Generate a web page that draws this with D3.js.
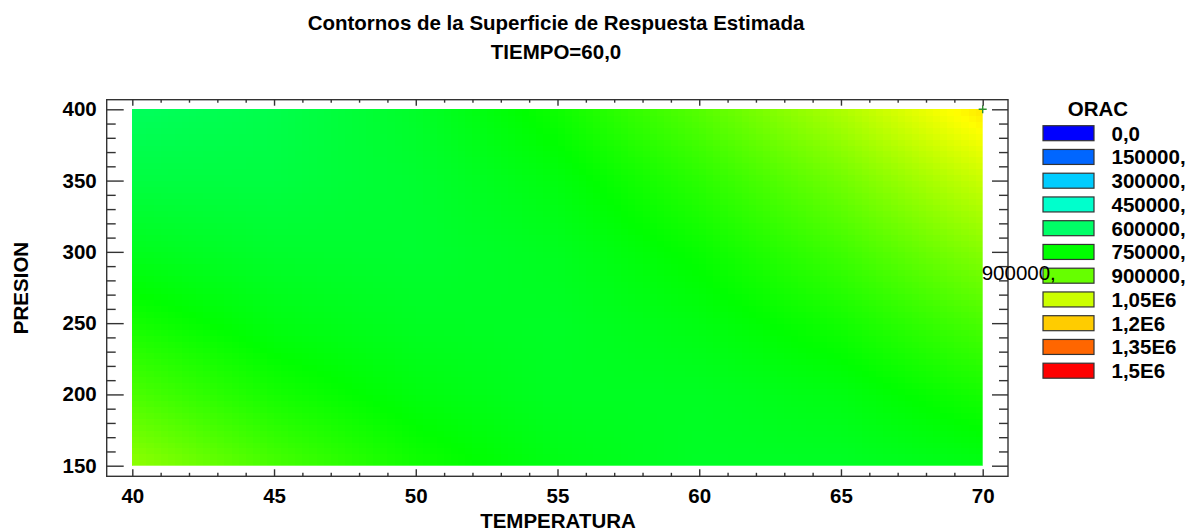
<!DOCTYPE html>
<html>
<head>
<meta charset="utf-8">
<script src="https://cdn.jsdelivr.net/npm/d3@7"></script>
<style>
  html, body { margin: 0; padding: 0; background: #fff; }
  svg { display: block; }
  text { font-family: "Liberation Sans", Arial, sans-serif; fill: #000; }
</style>
</head>
<body>
<svg id="chart" width="1191" height="531"></svg>
<script>
// Estimated response surface of ORAC at TIEMPO = 60,0
const temperaturas = [40, 45, 50, 55, 60, 65, 70];
const presiones = [150, 200, 250, 300, 350, 400];
// one row per presion (same order as presiones), one value per temperatura
const orac = [
  [960000, 855000, 775000, 720000, 695000, 695000, 720000],
  [860000, 780000, 730000, 700000, 700000, 725000, 780000],
  [780000, 725000, 700000, 695000, 725000, 775000, 855000],
  [710000, 685000, 680000, 705000, 760000, 840000, 945000],
  [655000, 655000, 680000, 730000, 810000, 915000, 1045000],
  [615000, 640000, 690000, 770000, 875000, 1005000, 1160000]
];
const niveles = [0, 150000, 300000, 450000, 600000, 750000, 900000, 1050000, 1200000, 1350000, 1500000];
const etiquetasNiveles = ["0,0", "150000,", "300000,", "450000,", "600000,", "750000,", "900000,", "1,05E6", "1,2E6", "1,35E6", "1,5E6"];
const ticksX = [40, 45, 50, 55, 60, 65, 70];
const ticksY = [150, 200, 250, 300, 350, 400];
const contornoEtiquetado = 900000;
const etiquetaContorno = "900000,";
const optimo = { t: 70, p: 400 };

const svg = d3.select("#chart");
const frame = { left: 106.7, top: 99.7, right: 1008, bottom: 476.3 };

const x = d3.scaleLinear().domain([40, 70]).range([132.3, 982.7]);
const y = d3.scaleLinear().domain([150, 400]).range([465.7, 109.3]);

// hue runs from blue (0) to red (1,5E6)
const hue = d3.scaleLinear().domain([0, 1500000]).range([240, 0]).clamp(true);
const colorOf = v => d3.hsl(hue(v), 1, 0.5).formatHex();

// bilinear lookup in the table
function valueAt(t, p) {
  let i = Math.min(Math.max(d3.bisectRight(temperaturas, t) - 1, 0), temperaturas.length - 2);
  let j = Math.min(Math.max(d3.bisectRight(presiones, p) - 1, 0), presiones.length - 2);
  const ft = (t - temperaturas[i]) / (temperaturas[i + 1] - temperaturas[i]);
  const fp = (p - presiones[j]) / (presiones[j + 1] - presiones[j]);
  const a = orac[j][i], b = orac[j][i + 1], c = orac[j + 1][i], d = orac[j + 1][i + 1];
  return (a * (1 - ft) + b * ft) * (1 - fp) + (c * (1 - ft) + d * ft) * fp;
}

// surface cells
const nx = 120, ny = 60;
const dt = (70 - 40) / nx, dp = (400 - 150) / ny;
const cells = [];
for (let j = 0; j < ny; j++) {
  for (let i = 0; i < nx; i++) {
    const t0 = 40 + i * dt, p0 = 150 + j * dp;
    cells.push({ t0, t1: t0 + dt, p0, p1: p0 + dp, v: valueAt(t0 + dt / 2, p0 + dp / 2) });
  }
}
svg.append("g")
  .attr("shape-rendering", "crispEdges")
  .selectAll("rect").data(cells).join("rect")
  .attr("x", d => x(d.t0))
  .attr("y", d => y(d.p1))
  .attr("width", d => x(d.t1) - x(d.t0) + 0.6)
  .attr("height", d => y(d.p0) - y(d.p1) + 0.6)
  .attr("fill", d => colorOf(d.v));

// trim the cell overlap back to the surface edge
svg.append("rect")
  .attr("x", x(70)).attr("y", frame.top + 1)
  .attr("width", frame.right - x(70) - 1).attr("height", frame.bottom - frame.top - 2)
  .attr("fill", "#fff");
svg.append("rect")
  .attr("x", x(40)).attr("y", y(150))
  .attr("width", x(70) - x(40)).attr("height", frame.bottom - y(150) - 1)
  .attr("fill", "#fff");

// optimum marker
svg.append("path")
  .attr("d", `M${x(optimo.t) - 4},${y(optimo.p)}h8M${x(optimo.t)},${y(optimo.p) - 4}v8`)
  .attr("stroke", "#2f8f2f").attr("stroke-width", 1.4).attr("fill", "none");

// frame
svg.append("rect")
  .attr("x", frame.left).attr("y", frame.top)
  .attr("width", frame.right - frame.left).attr("height", frame.bottom - frame.top)
  .attr("fill", "none").attr("stroke", "#333").attr("stroke-width", 1.4);

const minorX = d3.range(40, 71, 1).filter(v => v % 5 !== 0);
const minorY = d3.range(150, 401, 10).filter(v => v % 50 !== 0);
const tickFont = "bold 20.5px 'Liberation Sans', Arial, sans-serif";

function styleAxis(g) {
  g.select(".domain").remove();
  g.selectAll("line").attr("stroke", "#333").attr("stroke-width", 1.4);
  g.selectAll("text").style("font", tickFont).attr("fill", "#000");
}

// bottom
svg.append("g").attr("transform", `translate(0,${frame.bottom})`)
  .call(d3.axisBottom(x).tickValues(ticksX).tickSizeInner(-7).tickSizeOuter(0).tickPadding(12).tickFormat(d3.format("d")))
  .call(styleAxis);
svg.append("g").attr("transform", `translate(0,${frame.bottom})`)
  .call(d3.axisBottom(x).tickValues(minorX).tickSizeInner(-3.5).tickSizeOuter(0).tickFormat(""))
  .call(styleAxis);
// top
svg.append("g").attr("transform", `translate(0,${frame.top})`)
  .call(d3.axisTop(x).tickValues(ticksX).tickSizeInner(-6).tickSizeOuter(0).tickFormat(""))
  .call(styleAxis);
svg.append("g").attr("transform", `translate(0,${frame.top})`)
  .call(d3.axisTop(x).tickValues(minorX).tickSizeInner(-3).tickSizeOuter(0).tickFormat(""))
  .call(styleAxis);
// left
svg.append("g").attr("transform", `translate(${frame.left},0)`)
  .call(d3.axisLeft(y).tickValues(ticksY).tickSizeInner(-17).tickSizeOuter(0).tickPadding(10).tickFormat(d3.format("d")))
  .call(styleAxis);
svg.append("g").attr("transform", `translate(${frame.left},0)`)
  .call(d3.axisLeft(y).tickValues(minorY).tickSizeInner(-9).tickSizeOuter(0).tickFormat(""))
  .call(styleAxis);
// right
svg.append("g").attr("transform", `translate(${frame.right},0)`)
  .call(d3.axisRight(y).tickValues(ticksY).tickSizeInner(-16).tickSizeOuter(0).tickFormat(""))
  .call(styleAxis);
svg.append("g").attr("transform", `translate(${frame.right},0)`)
  .call(d3.axisRight(y).tickValues(minorY).tickSizeInner(-9).tickSizeOuter(0).tickFormat(""))
  .call(styleAxis);

// titles
const titleFont = "bold 20.5px 'Liberation Sans', Arial, sans-serif";
svg.append("text").attr("x", 556).attr("y", 30).attr("text-anchor", "middle")
  .style("font", titleFont).text("Contornos de la Superficie de Respuesta Estimada");
svg.append("text").attr("x", 556).attr("y", 59).attr("text-anchor", "middle")
  .style("font", titleFont).text("TIEMPO=60,0");
svg.append("text").attr("x", 558).attr("y", 528).attr("text-anchor", "middle")
  .style("font", titleFont).text("TEMPERATURA");
svg.append("text").attr("transform", "translate(28,288) rotate(-90)").attr("text-anchor", "middle")
  .style("font", titleFont).text("PRESION");

// legend
const legend = svg.append("g");
legend.append("text").attr("x", 1098).attr("y", 115.7).attr("text-anchor", "middle")
  .style("font", titleFont).text("ORAC");
const rowY = d3.scaleLinear().domain([0, niveles.length - 1]).range([133.2, 370.7]);
const rows = legend.selectAll("g.row").data(niveles).join("g").attr("class", "row");
rows.append("rect")
  .attr("x", 1043).attr("y", (d, i) => rowY(i) - 7.5)
  .attr("width", 51).attr("height", 15)
  .attr("fill", d => colorOf(d))
  .attr("stroke", "#333").attr("stroke-width", 1.2);
rows.append("text")
  .attr("x", 1111.5).attr("y", (d, i) => rowY(i) + 7.3)
  .style("font", titleFont)
  .text((d, i) => etiquetasNiveles[i]);

// labelled contour crossing on the right edge (T = 70), drawn last so it sits on top
const col = temperaturas.length - 1;
let pCruce = null;
for (let j = 0; j < presiones.length - 1; j++) {
  const a = orac[j][col], b = orac[j + 1][col];
  if ((a - contornoEtiquetado) * (b - contornoEtiquetado) <= 0 && a !== b) {
    pCruce = presiones[j] + (contornoEtiquetado - a) / (b - a) * (presiones[j + 1] - presiones[j]);
    break;
  }
}
if (pCruce !== null) {
  svg.append("text")
    .attr("x", x(70) - 1).attr("y", y(pCruce) - 7.5)
    .style("font", "20.5px 'Liberation Sans', Arial, sans-serif")
    .text(etiquetaContorno);
}
</script>
</body>
</html>
